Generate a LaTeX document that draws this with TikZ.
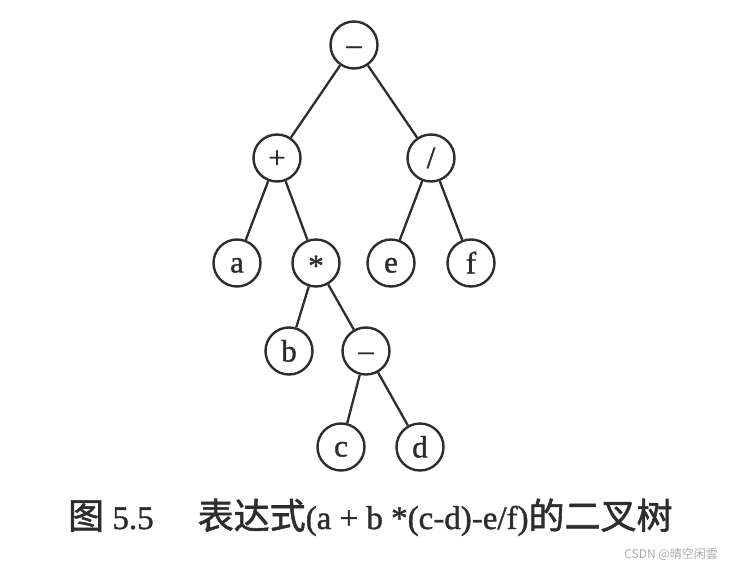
\documentclass[tikz,border=0pt]{standalone}
\usepackage{fontspec}
\setmainfont{Liberation Serif}
\newfontfamily\heavy[FakeBold=1.2]{Liberation Serif}
\newfontfamily\cjk{Noto Sans CJK SC}
\newfontfamily\cjkheavy[FakeBold=1.5]{Noto Sans CJK SC}
\definecolor{ink}{RGB}{45,45,45}
\definecolor{mark}{RGB}{170,170,170}
% glyph lowered by #1, with no height of its own
\newcommand{\sym}[2]{\raisebox{-#1}[0pt][0pt]{#2}}
\begin{document}
\begin{tikzpicture}[x=1pt,y=-1pt,
	vertex/.style={draw=ink,line width=2.4pt,circle,minimum size=47pt,inner sep=0pt,text=ink,font=\heavy\fontsize{31}{31}\selectfont},
	branch/.style={draw=ink,line width=2.3pt}]
	\useasboundingbox (0,0) rectangle (729,567);
	% tree
	\node[vertex] (root) at (354,45) {\sym{9.5pt}{–}};
	\node[vertex] (plus) at (277,158) {\sym{10pt}{+}};
	\node[vertex] (div) at (431,158) {\sym{10pt}{/}};
	\node[vertex] (a) at (237,263) {\sym{9.5pt}{a}};
	\node[vertex] (mul) at (316,263) {\sym{13pt}{*}};
	\node[vertex] (e) at (391,263) {\sym{9.5pt}{e}};
	\node[vertex] (f) at (471,263) {\sym{10.5pt}{f}};
	\node[vertex] (b) at (289,351) {\sym{10.5pt}{b}};
	\node[vertex] (sub) at (366,351) {\sym{9.5pt}{–}};
	\node[vertex] (c) at (341,447) {\sym{9.5pt}{c}};
	\node[vertex] (d) at (420,447) {\sym{10.5pt}{d}};
	\draw[branch] (root) -- (plus);
	\draw[branch] (root) -- (div);
	\draw[branch] (plus) -- (a);
	\draw[branch] (plus) -- (mul);
	\draw[branch] (div) -- (e);
	\draw[branch] (div) -- (f);
	\draw[branch] (mul) -- (b);
	\draw[branch] (mul) -- (sub);
	\draw[branch] (sub) -- (c);
	\draw[branch] (sub) -- (d);
	% caption
	\node[anchor=base west,inner sep=0pt,text=ink,font=\heavy\fontsize{33}{40}\selectfont] (caption) at (68,529)
		{{\cjkheavy\fontsize{36}{40}\selectfont 图} 5.5\hspace{44pt}{\cjkheavy\fontsize{36}{40}\selectfont 表达式}(a + b *(c-d)-e/f){\cjkheavy\fontsize{36}{40}\selectfont 的二叉树}};
	\node[anchor=east,inner sep=0pt,text=mark,font=\cjk\fontsize{12}{14}\selectfont] (watermark) at (718,554) {CSDN @晴空闲雲};
\end{tikzpicture}
\end{document}
